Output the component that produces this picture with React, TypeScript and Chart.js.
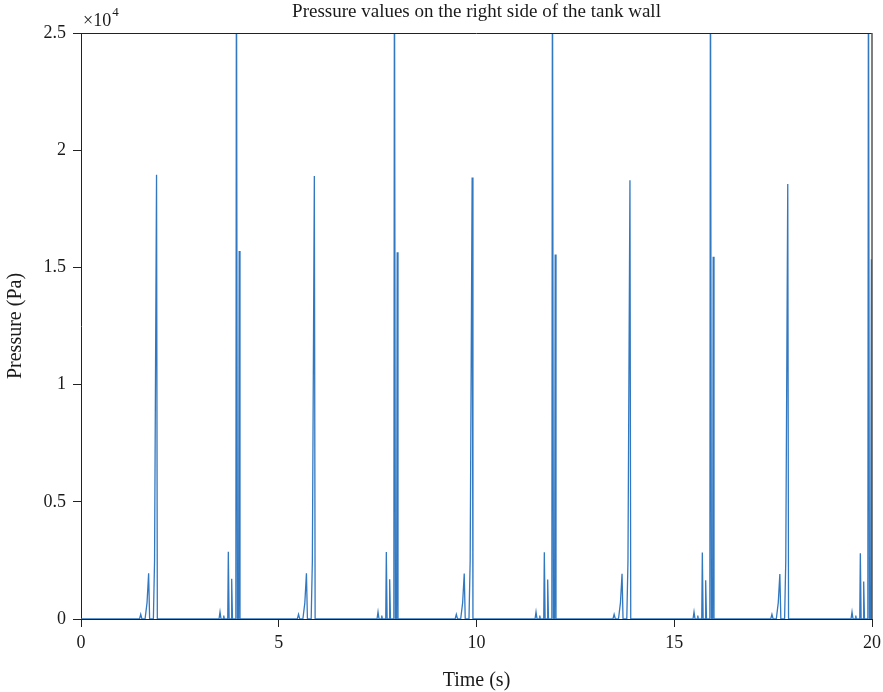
import React, { useEffect, useRef } from "react";
import { Chart, registerables } from "chart.js";

Chart.register(...registerables);

const chartTitle = "Pressure values on the right side of the tank wall";
const xAxisTitle = "Time (s)";
const yAxisTitle = "Pressure (Pa)";
const xTicks = [0, 5, 10, 15, 20];
const yTicks = [0, 5000, 10000, 15000, 20000, 25000];

// time (s)
const timeValues = [
  0,
  1.48, 1.51, 1.54, 1.62, 1.67, 1.71, 1.735, 1.83, 1.86, 1.91, 1.93,
  3.49, 3.515, 3.54, 3.595, 3.61, 3.625, 3.71, 3.725, 3.745, 3.795, 3.81, 3.83, 3.915, 3.93, 3.955, 3.985, 4.0, 4.02,
  5.47, 5.5, 5.53, 5.61, 5.66, 5.7, 5.725, 5.82, 5.85, 5.9, 5.92,
  7.485, 7.51, 7.535, 7.59, 7.605, 7.62, 7.705, 7.72, 7.74, 7.79, 7.805, 7.825, 7.91, 7.925, 7.95, 7.98, 7.995, 8.015,
  9.46, 9.49, 9.52, 9.6, 9.65, 9.69, 9.715, 9.81, 9.84, 9.89, 9.91,
  11.48, 11.505, 11.53, 11.585, 11.6, 11.615, 11.7, 11.715, 11.735, 11.785, 11.8, 11.82, 11.905, 11.92, 11.945, 11.975, 11.99, 12.01,
  13.45, 13.48, 13.51, 13.59, 13.64, 13.68, 13.705, 13.8, 13.83, 13.88, 13.9,
  15.475, 15.5, 15.525, 15.58, 15.595, 15.61, 15.695, 15.71, 15.73, 15.78, 15.795, 15.815, 15.9, 15.915, 15.94, 15.97, 15.985, 16.005,
  17.44, 17.47, 17.5, 17.58, 17.63, 17.67, 17.695, 17.79, 17.82, 17.87, 17.89,
  19.47, 19.495, 19.52, 19.575, 19.59, 19.605, 19.69, 19.705, 19.725, 19.775, 19.79, 19.81, 19.895, 19.91, 19.935, 19.965, 19.985, 20.0,
];

// pressure (Pa)
const pressureValues = [
  0,
  0, 200, 0, 0, 700, 1950, 0, 0, 2500, 18950, 0,
  0, 300, 0, 0, 150, 0, 0, 2870, 0, 0, 1720, 0, 0, 30000, 0, 0, 15700, 0,
  0, 200, 0, 0, 700, 1950, 0, 0, 2500, 18900, 0,
  0, 300, 0, 0, 150, 0, 0, 2860, 0, 0, 1700, 0, 0, 30000, 0, 0, 15650, 0,
  0, 200, 0, 0, 700, 1940, 0, 0, 2500, 18830, 0,
  0, 300, 0, 0, 150, 0, 0, 2850, 0, 0, 1680, 0, 0, 30000, 0, 0, 15550, 0,
  0, 200, 0, 0, 700, 1930, 0, 0, 2500, 18720, 0,
  0, 300, 0, 0, 150, 0, 0, 2840, 0, 0, 1650, 0, 0, 30000, 0, 0, 15450, 0,
  0, 200, 0, 0, 700, 1920, 0, 0, 2500, 18560, 0,
  0, 300, 0, 0, 150, 0, 0, 2810, 0, 0, 1600, 0, 0, 30000, 0, 0, 15350, 0,
];

const FONT = "'Liberation Serif', 'DejaVu Serif', serif";
const TEXT = "#1a1a1a";

const decorPlugin = {
  id: "decor",
  afterDraw(chart: any) {
    const { ctx, chartArea } = chart;
    const { left, right, top, bottom } = chartArea;
    ctx.save();
    // top & right box lines
    ctx.strokeStyle = "#222";
    ctx.lineWidth = 1;
    ctx.beginPath();
    ctx.moveTo(left, top + 0.5);
    ctx.lineTo(right, top + 0.5);
    ctx.stroke();
    ctx.strokeStyle = "#555";
    ctx.lineWidth = 1.5;
    ctx.beginPath();
    ctx.moveTo(right, top);
    ctx.lineTo(right, bottom);
    ctx.stroke();

    ctx.fillStyle = TEXT;
    // title
    ctx.font = `19px ${FONT}`;
    ctx.textAlign = "center";
    ctx.textBaseline = "alphabetic";
    ctx.fillText(chartTitle, (left + right) / 2, 17);

    // exponent
    ctx.textAlign = "left";
    ctx.font = `18px ${FONT}`;
    ctx.fillText("\u00d710", left + 2, 26);
    const w = ctx.measureText("\u00d710").width;
    ctx.font = `13px ${FONT}`;
    ctx.fillText("4", left + 2 + w + 1, 16);

    // x axis title
    ctx.font = `20px ${FONT}`;
    ctx.textAlign = "center";
    ctx.fillText(xAxisTitle, (left + right) / 2, 686);

    // y axis title
    ctx.save();
    ctx.translate(21, (top + bottom) / 2);
    ctx.rotate(-Math.PI / 2);
    ctx.fillText(yAxisTitle, 0, 0);
    ctx.restore();

    ctx.restore();
  },
};

export default function App() {
  const canvasRef = useRef<HTMLCanvasElement | null>(null);

  useEffect(() => {
    document.body.style.margin = "0";
    const canvas = canvasRef.current;
    if (!canvas) return;
    const points = timeValues.map((t, i) => ({ x: t, y: pressureValues[i] }));
    const chart = new Chart(canvas, {
      type: "line",
      data: {
        datasets: [
          {
            data: points,
            borderColor: "rgb(50,120,193)",
            borderWidth: 1.3,
            pointRadius: 0,
            tension: 0,
            fill: false,
            clip: 0,
          } as any,
        ],
      },
      options: {
        animation: false,
        responsive: false,
        devicePixelRatio: 1,
        events: [],
        layout: { padding: { top: 33, right: 11, left: 0, bottom: 0 } },
        plugins: {
          legend: { display: false },
          title: { display: false },
          tooltip: { enabled: false },
        },
        scales: {
          x: {
            type: "linear",
            min: 0,
            max: 20,
            afterBuildTicks: (scale: any) => {
              scale.ticks = xTicks.map((v) => ({ value: v }));
            },
            ticks: {
              color: TEXT,
              font: { family: FONT, size: 18 },
              padding: 5,
              maxRotation: 0,
              callback: (v: any) => String(v),
            },
            grid: {
              drawOnChartArea: false,
              drawTicks: true,
              tickLength: 8,
              tickColor: "#222",
              color: "#222",
            },
            border: { display: true, color: "#222", width: 1 },
            afterFit: (scale: any) => {
              scale.height = 73;
              scale.paddingLeft = 0;
              scale.paddingRight = 0;
            },
          },
          y: {
            type: "linear",
            min: 0,
            max: 25000,
            afterBuildTicks: (scale: any) => {
              scale.ticks = yTicks.map((v) => ({ value: v }));
            },
            ticks: {
              color: TEXT,
              font: { family: FONT, size: 18 },
              padding: 7,
              callback: (v: any) => String(Number(v) / 10000),
            },
            grid: {
              drawOnChartArea: false,
              drawTicks: true,
              tickLength: 8,
              tickColor: "#222",
              color: "#222",
            },
            border: { display: true, color: "#222", width: 1 },
            afterFit: (scale: any) => {
              scale.width = 81;
              scale.paddingTop = 0;
              scale.paddingBottom = 0;
            },
          },
        },
      },
      plugins: [decorPlugin],
    });
    return () => chart.destroy();
  }, []);

  return (
    <div style={{ width: 883, height: 692, background: "#fff" }}>
      <canvas ref={canvasRef} width={883} height={692} style={{ display: "block" }} />
    </div>
  );
}
